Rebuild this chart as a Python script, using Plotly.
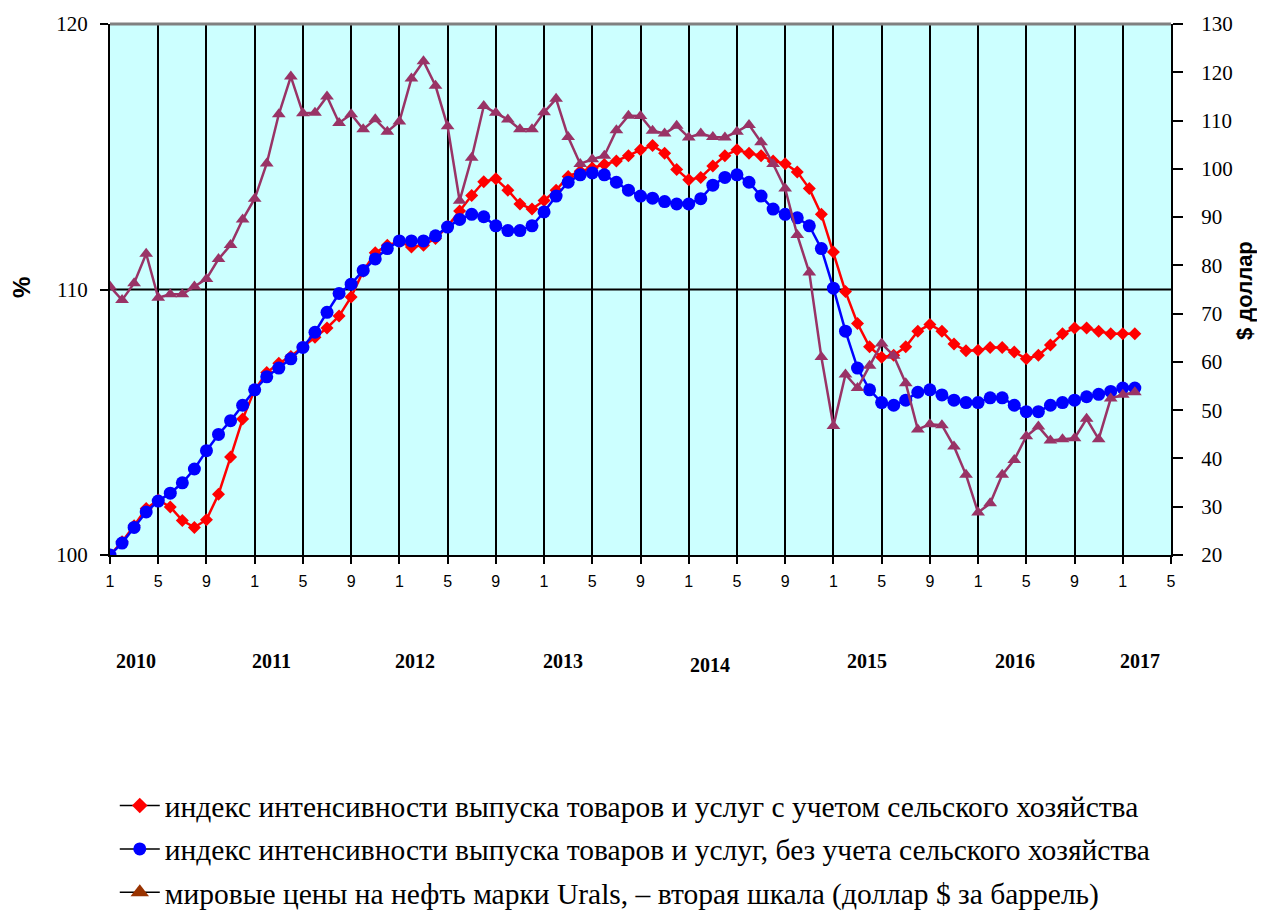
import plotly.graph_objects as go

# ---------------- data ----------------
MONTHS = [f"{y}-{m:02d}" for y in range(2010, 2018) for m in range(1, 13)][:86]

RED_WITH_AGRI = [
    100.0, 100.5, 101.1, 101.75, 102.07, 101.81, 101.3, 101.04, 101.33, 102.29, 103.69, 105.12,
    106.22, 106.87, 107.22, 107.48, 107.84, 108.2, 108.55, 109.0, 109.72, 110.69, 111.38, 111.67,
    111.8, 111.6, 111.67, 111.92, 112.38, 112.96, 113.54, 114.06, 114.17, 113.74, 113.22, 113.03,
    113.35, 113.74, 114.26, 114.45, 114.58, 114.71, 114.84, 115.04, 115.26, 115.42, 115.13, 114.52,
    114.13, 114.22, 114.65, 115.04, 115.26, 115.13, 115.04, 114.84, 114.74, 114.43, 113.8, 112.83,
    111.41, 109.92, 108.72, 107.84, 107.45, 107.52, 107.84, 108.43, 108.68, 108.43, 107.95, 107.69,
    107.71, 107.82, 107.82, 107.65, 107.39, 107.52, 107.91, 108.33, 108.55, 108.55, 108.43, 108.33,
    108.33, 108.33,
]

BLUE_NO_AGRI = [
    100.0, 100.45, 101.04, 101.62, 102.03, 102.33, 102.72, 103.24, 103.93, 104.54, 105.06, 105.64,
    106.22, 106.71, 107.04, 107.39, 107.82, 108.39, 109.14, 109.85, 110.2, 110.72, 111.15, 111.54,
    111.83, 111.83, 111.83, 112.02, 112.35, 112.64, 112.83, 112.74, 112.4, 112.22, 112.22, 112.4,
    112.92, 113.52, 114.04, 114.32, 114.39, 114.32, 114.04, 113.74, 113.52, 113.44, 113.31, 113.22,
    113.22, 113.42, 113.93, 114.22, 114.32, 114.04, 113.52, 113.03, 112.83, 112.7, 112.4, 111.54,
    110.05, 108.43, 107.04, 106.22, 105.74, 105.64, 105.83, 106.13, 106.22, 106.03, 105.83, 105.74,
    105.74, 105.92, 105.92, 105.64, 105.4, 105.4, 105.64, 105.74, 105.83, 105.96, 106.05, 106.16,
    106.29, 106.29,
]

OIL_URALS = [
    75.6, 72.8, 76.3, 82.4, 73.3, 74.0, 74.0, 75.6, 77.2, 81.3, 84.2, 89.5,
    93.8, 101.1, 111.3, 119.1, 111.5, 111.6, 115.0, 109.5, 111.3, 108.2, 110.25, 107.7,
    109.8, 118.7, 122.3, 117.2, 108.8, 93.4, 102.3, 113.0, 111.6, 110.2, 108.2, 108.2,
    111.7, 114.5, 106.6, 101.0, 102.0, 102.7, 108.0, 111.0, 110.95, 107.9, 107.3, 108.9,
    106.5, 107.3, 106.6, 106.5, 107.7, 109.1, 105.5, 101.0, 95.9, 86.3, 78.5, 61.0,
    46.7, 57.4, 54.6, 59.2, 63.8, 61.3, 55.6, 46.0, 47.1, 46.9, 42.5, 36.6,
    28.8, 30.7, 36.6, 39.7, 44.6, 46.6, 43.7, 44.0, 44.2, 48.2, 44.0, 52.4,
    53.2, 53.7,
]

X_TICK_LABELS = ["1", "5", "9"]
YEAR_LABELS = ["2010", "2011", "2012", "2013", "2014", "2015", "2016", "2017"]
LEFT_TICKS = [100, 110, 120]
RIGHT_TICKS = [20, 30, 40, 50, 60, 70, 80, 90, 100, 110, 120, 130]

LEGEND_TEXT = [
    "индекс интенсивности выпуска товаров и услуг с учетом сельского хозяйства",
    "индекс интенсивности выпуска товаров и услуг, без учета сельского хозяйства",
    "мировые цены на нефть марки Urals, – вторая шкала (доллар $ за баррель)",
]

# ---------------- figure ----------------
x = list(range(len(MONTHS)))
n_axis = 89  # category slots on the axis (Jan 2010 .. May 2017)
tickvals = list(range(0, n_axis, 4))
ticktext = [X_TICK_LABELS[i % 3] for i in range(len(tickvals))]

SERIF = "Liberation Serif, Times New Roman, serif"
SANS = "Liberation Sans, Arial, sans-serif"

fig = go.Figure()

fig.add_trace(go.Scatter(
    x=x, y=RED_WITH_AGRI, mode="lines+markers", yaxis="y", showlegend=False,
    line=dict(color="#FF0000", width=2.5),
    marker=dict(symbol="diamond", size=10, color="#FF0000"),
    customdata=MONTHS, hovertemplate="%{customdata}: %{y}<extra></extra>",
))
fig.add_trace(go.Scatter(
    x=x, y=BLUE_NO_AGRI, mode="lines+markers", yaxis="y", showlegend=False,
    line=dict(color="#0000FF", width=2.5),
    marker=dict(symbol="circle", size=13, color="#0000FF"),
    customdata=MONTHS, hovertemplate="%{customdata}: %{y}<extra></extra>",
))
fig.add_trace(go.Scatter(
    x=x, y=OIL_URALS, mode="lines+markers", yaxis="y2", showlegend=False,
    line=dict(color="#993366", width=2.5),
    marker=dict(symbol="triangle-up", size=12, color="#993366"),
    customdata=MONTHS, hovertemplate="%{customdata}: %{y}<extra></extra>",
))

# legend entries (black dashes, coloured marker)
legend_markers = [("diamond", "#FF0000", 12), ("circle", "#0000FF", 13), ("triangle-up", "#993300", 16)]
for i, (txt, (sym, col, sz)) in enumerate(zip(LEGEND_TEXT, legend_markers)):
    fig.add_trace(go.Scatter(
        x=[None], y=[None], mode="lines+markers", name=txt, legendgroup=f"g{i}",
        line=dict(color="black", width=1.5),
        marker=dict(symbol=sym, size=sz, color=col),
    ))

fig.update_layout(
    width=1250, height=905,
    margin=dict(l=102, r=87, t=16, b=358, autoexpand=False),
    paper_bgcolor="white", plot_bgcolor="#CCFFFF",
    showlegend=True,
    legend=dict(
        x=0.0045, y=-0.4235, xanchor="left", yanchor="top",
        font=dict(family=SERIF, size=29.5, color="black"),
        tracegroupgap=2, itemwidth=40, bgcolor="rgba(0,0,0,0)",
    ),
    xaxis=dict(
        range=[0, n_axis - 1], tickmode="array", tickvals=tickvals, ticktext=ticktext,
        showgrid=True, gridcolor="black", gridwidth=2,
        showline=True, linecolor="black", linewidth=2,
        ticks="outside", ticklen=7, tickwidth=2, tickcolor="black",
        tickfont=dict(family=SANS, size=16, color="black"),
        ticklabelstandoff=4,
        zeroline=False, fixedrange=True,
    ),
    yaxis=dict(
        range=[100, 120], tickmode="array", tickvals=LEFT_TICKS,
        showgrid=False, zeroline=False,
        showline=True, linecolor="black", linewidth=2,
        ticks="outside", ticklen=8, tickwidth=2, tickcolor="black",
        tickfont=dict(family=SERIF, size=21, color="black"),
        ticklabelstandoff=8,
    ),
    yaxis2=dict(
        range=[20, 130], tickmode="array", tickvals=RIGHT_TICKS,
        overlaying="y", side="right",
        showgrid=False, zeroline=False,
        showline=True, linecolor="black", linewidth=2,
        ticks="outside", ticklen=10, tickwidth=2, tickcolor="black",
        tickfont=dict(family=SERIF, size=21, color="black"),
        ticklabelstandoff=14,
    ),
)

# horizontal grid line at 110 and grey top border
fig.add_shape(type="line", xref="paper", yref="y", x0=0, x1=1, y0=110, y1=110,
              line=dict(color="black", width=2), layer="below")
fig.add_shape(type="line", xref="paper", yref="paper", x0=0, x1=1, y0=1, y1=1,
              line=dict(color="#808080", width=3), layer="above")

# year labels under the month ticks
year_pos = [2.16, 13.4, 25.3, 37.6, 49.75, 62.8, 75.1, 85.4]
year_y = [-0.1996, -0.1996, -0.1996, -0.1996, -0.2072, -0.1996, -0.1996, -0.1996]
for lab, xp, yp in zip(YEAR_LABELS, year_pos, year_y):
    fig.add_annotation(text=f"<b>{lab}</b>", x=xp, y=yp, xref="x", yref="paper",
                       xanchor="center", yanchor="middle",
                       showarrow=False, font=dict(family=SERIF, size=20, color="black"))

# axis titles
fig.add_annotation(text="<b>%</b>", x=-0.0829, y=0.503, xref="paper", yref="paper",
                   xanchor="center", yanchor="middle",
                   showarrow=False, textangle=-90, font=dict(family=SANS, size=24, color="black"))
fig.add_annotation(text="<b>$ доллар</b>", x=1.0688, y=0.499, xref="paper", yref="paper",
                   xanchor="center", yanchor="middle",
                   showarrow=False, textangle=-90, font=dict(family=SANS, size=22, color="black"))

fig.write_html("out.html")
